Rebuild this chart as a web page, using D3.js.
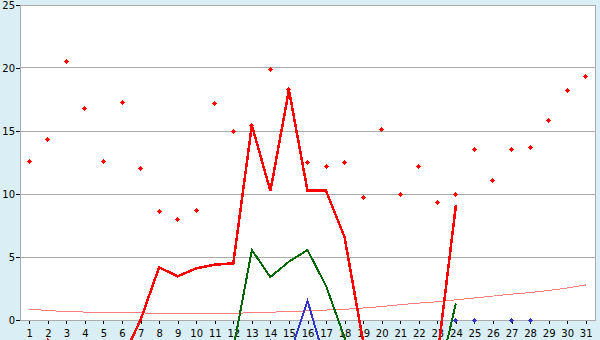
<!DOCTYPE html>
<html>
<head>
<meta charset="utf-8">
<script src="https://cdn.jsdelivr.net/npm/d3@7"></script>
<style>
body{margin:0;background:#daeef5;}
svg{display:block;}
.axis text{font-family:"DejaVu Sans";font-size:10px;fill:#000;}
.axis line{stroke:#000;shape-rendering:crispEdges;}
</style>
</head>
<body>
<svg id="svg" width="600" height="340"></svg>
<script>
var days=['1','2','3','4','5','6','7','8','9','10','11','12','13','14','15','16',
    '17','18','19','20','21','22','23','24','25','26','27','28','29','30','31'];
var yTicks=[0,5,10,15,20,25];

// red dots, one per day
var avgValues=[12.6,14.3,20.5,16.8,12.6,17.3,12.0,8.6,8.0,8.7,17.2,15.0,15.4,19.9,18.3,12.5,
    12.2,12.5,9.7,15.1,10.0,12.2,9.3,10.0,13.5,11.1,13.5,13.7,15.8,18.2,19.3];
// thin pink trend
var trendValues=[0.87,0.75,0.67,0.63,0.61,0.6,0.56,0.54,0.53,0.53,0.53,0.54,0.57,0.62,0.67,0.72,
    0.79,0.85,0.95,1.07,1.22,1.34,1.45,1.6,1.75,1.9,2.05,2.18,2.34,2.54,2.78];
// lines (days 1..24), negative values fall below the plot
var redLine=[-5,-1.6,-5,-5,-5,-3.1,0,4.18,3.47,4.1,4.39,4.5,15.45,10.24,18.25,10.26,10.26,6.56,
    -1.7,-5,-5,-5,-3.0,9.1];
var greenLine=[-5,-5,-5,-5,-5,-5,-5,-5,-5,-5,-5,-2.3,5.56,3.41,4.63,5.56,2.7,-1.4,-5,-5,-5,-5,-5,1.32];
var blueLine=[-5,-5,-5,-5,-5,-5,-5,-5,-5,-5,-5,-5,-5,-1.6,-2.9,1.53,-3.5,-5,-5,-5,-5,-5,-5];
var blueDays=['24','25','27','28'];
var blueValues=[0,0,0,0];

var svg=d3.select("#svg");
var plot={left:20,right:595,top:5,bottom:320};

var xScale=d3.scalePoint()
    .domain(days)
    .range([plot.left,plot.right])
    .padding(0.5);

var yScale=d3.scaleLinear()
    .domain([0,25])
    .range([plot.bottom,plot.top]);

function crisp(v){return Math.floor(v)+0.5;}

// white plot area
svg.append("rect")
    .attr("x",plot.left).attr("y",plot.top)
    .attr("width",plot.right-plot.left).attr("height",plot.bottom-plot.top)
    .attr("fill","#fff");

// grid
svg.append("g")
    .selectAll("line")
    .data(yTicks.slice(1,-1))
    .enter().append("line")
    .attr("x1",plot.left).attr("x2",plot.right)
    .attr("y1",function(d){return crisp(yScale(d));})
    .attr("y2",function(d){return crisp(yScale(d));})
    .attr("stroke","#aaa")
    .attr("shape-rendering","crispEdges");

svg.append("rect")
    .attr("x",plot.left+0.5).attr("y",plot.top+0.5)
    .attr("width",plot.right-plot.left).attr("height",plot.bottom-plot.top)
    .attr("fill","none").attr("stroke","#aaa")
    .attr("shape-rendering","crispEdges");

var xAxis=svg.append("g")
    .attr("class","axis")
    .attr("transform","translate(0,"+plot.bottom+")")
    .call(d3.axisBottom(xScale).tickSize(4).tickPadding(6));
xAxis.select(".domain").remove();

var yAxis=svg.append("g")
    .attr("class","axis")
    .attr("transform","translate("+plot.left+",0)")
    .call(d3.axisLeft(yScale).tickValues(yTicks).tickSize(4).tickPadding(1));
yAxis.select(".domain").remove();

svg.append("path")
    .attr("d","M"+(plot.left+0.5)+","+plot.top+"V"+(plot.bottom+0.5)+"H"+(plot.right+1))
    .attr("fill","none").attr("stroke","#aaa")
    .attr("shape-rendering","crispEdges");

function lineFor(values){
    return d3.line()
        .x(function(d,i){return xScale(days[i]);})
        .y(function(d){return yScale(d);})(values);
}

svg.append("path")
    .attr("d",lineFor(trendValues))
    .attr("fill","none").attr("stroke","#ff7f7f").attr("stroke-width",1)
    .attr("shape-rendering","crispEdges");

var series=[
    {values:blueLine,color:"#3333cc",width:2},
    {values:greenLine,color:"#006600",width:2},
    {values:redLine,color:"#ff0000",width:2.5}
];
svg.append("g")
    .selectAll("path")
    .data(series)
    .enter().append("path")
    .attr("d",function(d){return lineFor(d.values);})
    .attr("fill","none")
    .attr("stroke",function(d){return d.color;})
    .attr("stroke-width",function(d){return d.width;})
    .attr("shape-rendering","crispEdges");

// small stepped diamond, 5px across
var marker="M-0.5,-2.5h1v1h1v1h1v1h-1v1h-1v1h-1v-1h-1v-1h-1v-1h1v-1h1z";

svg.append("g")
    .selectAll("path")
    .data(avgValues)
    .enter().append("path")
    .attr("d",marker)
    .attr("transform",function(d,i){
        return "translate("+crisp(xScale(days[i]))+","+crisp(yScale(d))+")";
    })
    .attr("fill","#ff0000")
    .attr("shape-rendering","crispEdges");

svg.append("g")
    .selectAll("path")
    .data(blueValues)
    .enter().append("path")
    .attr("d",marker)
    .attr("transform",function(d,i){
        return "translate("+crisp(xScale(blueDays[i]))+","+crisp(yScale(d))+")";
    })
    .attr("fill","#3333cc")
    .attr("shape-rendering","crispEdges");
</script>
</body>
</html>
